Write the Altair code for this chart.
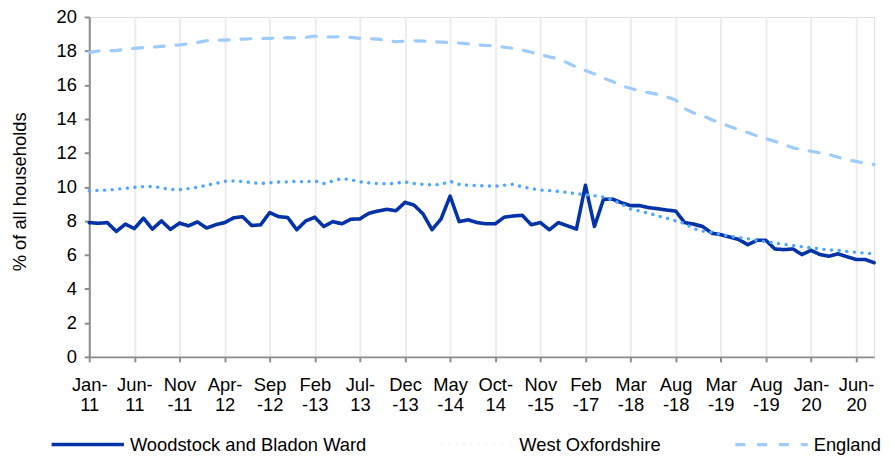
import altair as alt
import pandas as pd

series_names = ["Woodstock and Bladon Ward", "West Oxfordshire", "England"]

tick_labels = [["Jan-", "11"], ["Jun-", "11"], ["Nov", "-11"], ["Apr-", "12"], ["Sep", "-12"],
               ["Feb", "-13"], ["Jul-", "13"], ["Dec", "-13"], ["May", "-14"], ["Oct-", "14"],
               ["Nov", "-15"], ["Feb", "-17"], ["Mar", "-18"], ["Aug", "-18"], ["Mar", "-19"],
               ["Aug", "-19"], ["Jan-", "20"], ["Jun-", "20"]]

ward = [7.9, 7.86, 7.9, 7.38, 7.81, 7.55, 8.16, 7.52, 8.0, 7.5,
        7.87, 7.71, 7.94, 7.58, 7.77, 7.9, 8.18, 8.25, 7.73, 7.77,
        8.49, 8.25, 8.2, 7.48, 8.0, 8.21, 7.67, 7.96, 7.83, 8.1,
        8.12, 8.45, 8.58, 8.68, 8.6, 9.09, 8.93, 8.41, 7.48, 8.12,
        9.46, 7.96, 8.06, 7.9, 7.83, 7.83, 8.22, 8.29, 8.33, 7.77,
        7.9, 7.48, 7.9, 7.71, 7.52, 10.1, 7.67, 9.27, 9.28, 9.07,
        8.9, 8.9, 8.78, 8.72, 8.64, 8.58, 7.9, 7.81, 7.67, 7.28,
        7.19, 7.05, 6.9, 6.6, 6.86, 6.86, 6.35, 6.31, 6.35, 6.02,
        6.27, 6.02, 5.92, 6.06, 5.89, 5.73, 5.73, 5.54]

west_oxon = [9.77, 9.8, 9.82, 9.86, 9.92, 9.98, 10.02, 10.03, 9.95, 9.85,
             9.84, 9.9, 9.98, 10.1, 10.2, 10.33, 10.35, 10.32, 10.25, 10.2,
             10.25, 10.29, 10.3, 10.33, 10.3, 10.35, 10.2, 10.35, 10.49, 10.42,
             10.3, 10.24, 10.2, 10.18, 10.22, 10.29, 10.2, 10.15, 10.12, 10.15,
             10.33, 10.15, 10.1, 10.08, 10.06, 10.04, 10.1, 10.16, 10.0, 9.9,
             9.82, 9.78, 9.74, 9.67, 9.6, 9.55, 9.48, 9.4, 9.22, 9.0,
             8.7, 8.58, 8.45, 8.3, 8.16, 8.0, 7.85, 7.55, 7.4, 7.32,
             7.2, 7.1, 7.02, 6.95, 6.85, 6.78, 6.7, 6.62, 6.55, 6.48,
             6.42, 6.35, 6.3, 6.27, 6.2, 6.15, 6.1, 6.08]

england = [17.92, 18.0, 18.02, 18.02, 18.1, 18.15, 18.2, 18.22, 18.27, 18.33,
           18.35, 18.42, 18.5, 18.6, 18.64, 18.64, 18.66, 18.7, 18.72, 18.73,
           18.74, 18.76, 18.78, 18.76, 18.8, 18.87, 18.83, 18.82, 18.85, 18.8,
           18.74, 18.72, 18.7, 18.62, 18.54, 18.58, 18.6, 18.58, 18.55, 18.52,
           18.5, 18.47, 18.42, 18.36, 18.32, 18.3, 18.22, 18.15, 18.05, 17.92,
           17.78, 17.65, 17.55, 17.3, 17.05, 16.85, 16.65, 16.4, 16.2, 15.95,
           15.8, 15.65, 15.55, 15.45, 15.3, 15.12, 14.6, 14.35, 14.2, 13.95,
           13.75, 13.55, 13.38, 13.2, 13.0, 12.85, 12.68, 12.5, 12.3, 12.2,
           12.1, 12.0, 11.9, 11.75, 11.6, 11.5, 11.4, 11.32]

colors = ["#0433a8", "#4da6ff", "#9dcbfc"]
dashes = [[1, 0], [0.1, 7.6], [10, 12]]
widths = [3.6, 3.2, 5]
FONT = "Liberation Sans"
FS = 18.5

rows = []
for name, vals in zip(series_names, [ward, west_oxon, england]):
    for i, v in enumerate(vals):
        rows.append({"idx": i, "value": v, "series": name})
df = pd.DataFrame(rows)

label_expr = "[" + ",".join("['%s','%s']" % (a, b) for a, b in tick_labels) + "][round(datum.value/5)]"

legend_opts = dict(title=None, orient="none", direction="horizontal",
                   legendX=-40, legendY=393, symbolType="stroke",
                   symbolSize=5329, symbolStrokeWidth=2,
                   labelFontSize=FS, labelFont=FONT, labelColor="#000000",
                   labelOffset=4, columnPadding=68, labelLimit=400)

chart = alt.Chart(df).mark_line(strokeCap="round", strokeJoin="round").encode(
    x=alt.X("idx:Q",
            scale=alt.Scale(domain=[0, len(ward) - 1], nice=False, zero=False),
            axis=alt.Axis(values=list(range(0, 86, 5)), labelExpr=label_expr,
                          title=None, grid=True, gridColor="#ececec", gridWidth=2,
                          domainColor="#8c8c8c", domainWidth=2, tickColor="#8c8c8c",
                          tickWidth=2, tickSize=5, labelPadding=14, labelLineHeight=20,
                          labelFontSize=FS, labelColor="#000000", labelFont=FONT,
                          labelAngle=0, labelAlign="center", labelBaseline="top")),
    y=alt.Y("value:Q",
            scale=alt.Scale(domain=[0, 20], nice=False),
            axis=alt.Axis(values=list(range(0, 21, 2)), title="% of all households",
                          grid=False, domainColor="#8c8c8c", domainWidth=2,
                          tickColor="#8c8c8c", tickWidth=2, tickSize=5, labelPadding=8,
                          labelFontSize=FS, labelColor="#000000", labelFont=FONT,
                          titleFont=FONT, titleFontSize=FS, titleFontWeight="normal",
                          titleColor="#000000", titleX=-70, titleY=176, titleBaseline="middle",
                          titleAlign="center", titleAngle=-90)),
    color=alt.Color("series:N", scale=alt.Scale(domain=series_names, range=colors),
                    sort=series_names, legend=alt.Legend(**legend_opts)),
    strokeDash=alt.StrokeDash("series:N", scale=alt.Scale(domain=series_names, range=dashes),
                              sort=series_names, legend=alt.Legend(**legend_opts)),
    strokeWidth=alt.StrokeWidth("series:N", scale=alt.Scale(domain=series_names, range=widths),
                                legend=None),
    order=alt.Order("idx:Q"),
).properties(
    width=792, height=343,
    autosize=alt.AutoSizeParams(type="none"),
    padding={"left": 82, "top": 7, "right": 13, "bottom": 100},
).configure_view(stroke=None).configure(font=FONT, background="white")

chart.save("out.html", embed_options={"renderer": "svg", "actions": False})
